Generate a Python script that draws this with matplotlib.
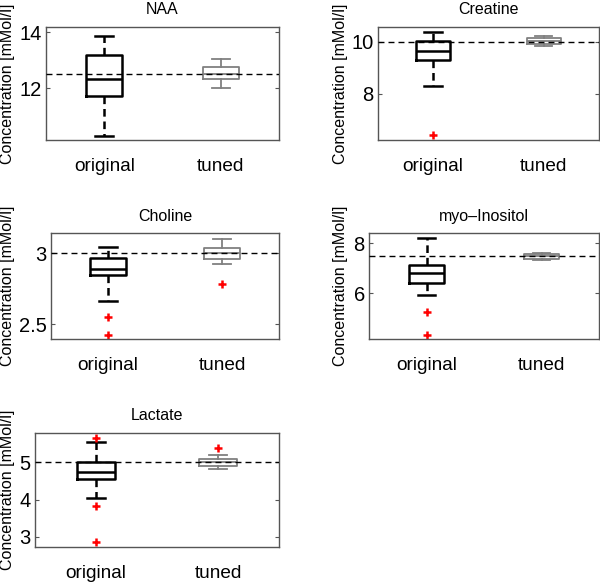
import matplotlib
matplotlib.use("Agg")
import matplotlib.pyplot as plt

plt.rcParams['font.family'] = ['Liberation Sans', 'DejaVu Sans']
plt.rcParams['lines.scale_dashes'] = False

titles = ["NAA", "Creatine", "Choline", "myo\u2013Inositol", "Lactate"]
true_values = [12.5, 10.0, 3.0, 7.5, 5.0]
groups = ["original", "tuned"]

# five-number summaries: whislo, q1, med, q3, whishi
orig_whislo = [10.30, 8.32, 2.666, 5.93, 4.05]
orig_q1 = [11.72, 9.30, 2.845, 6.42, 4.54]
orig_med = [12.31, 9.66, 2.889, 6.80, 4.73]
orig_q3 = [13.18, 10.03, 2.969, 7.13, 5.01]
orig_whishi = [13.85, 10.36, 3.047, 8.20, 5.54]
orig_fliers = [[], [6.43], [2.549, 2.425], [5.26, 4.33], [5.67, 3.83, 2.87]]

tuned_whislo = [12.02, 9.85, 2.927, 7.34, 4.81]
tuned_q1 = [12.32, 9.90, 2.958, 7.38, 4.91]
tuned_med = [12.52, 10.02, 3.004, 7.50, 5.00]
tuned_q3 = [12.74, 10.14, 3.035, 7.58, 5.09]
tuned_whishi = [13.05, 10.23, 3.10, 7.62, 5.19]
tuned_fliers = [[], [], [2.78], [], [5.39]]

ylims = [(10.15, 14.18), (6.24, 10.56), (2.394, 3.14), (4.16, 8.40), (2.73, 5.80)]
yticks = [[12, 14], [8, 10], [2.5, 3], [6, 8], [3, 4, 5]]
yticklabels = [["12", "14"], ["8", "10"], ["2.5", "3"], ["6", "8"], ["3", "4", "5"]]

W, H = 600, 584
# axes pixel boxes (left, right, top, bottom)
boxes_px = [(46, 279, 27, 140), (377.7, 599, 27, 140), (51, 279, 233.3, 339.3),
            (369, 599, 233.3, 339.3), (35, 279, 432.7, 546.7)]
ylabel_x_px = [8, 340, 8, 340, 8]

fig = plt.figure(figsize=(W / 100, H / 100), dpi=100)

spine_col = '#555555'
for i in range(5):
    l, r, t, b = boxes_px[i]
    ax = fig.add_axes([l / W, 1 - b / H, (r - l) / W, (b - t) / H])
    s_orig = dict(whislo=orig_whislo[i], q1=orig_q1[i], med=orig_med[i], q3=orig_q3[i],
                  whishi=orig_whishi[i], fliers=orig_fliers[i])
    s_tuned = dict(whislo=tuned_whislo[i], q1=tuned_q1[i], med=tuned_med[i], q3=tuned_q3[i],
                   whishi=tuned_whishi[i], fliers=tuned_fliers[i])
    flier = dict(marker='+', markeredgecolor='red', markersize=6, markeredgewidth=1.8,
                 linestyle='none')
    ax.bxp([s_orig], positions=[1], widths=0.31, capwidths=0.155,
           boxprops=dict(color='black', linewidth=1.8),
           medianprops=dict(color='black', linewidth=1.8),
           whiskerprops=dict(color='black', linewidth=1.8, linestyle=(0, (5.5, 3.5))),
           capprops=dict(color='black', linewidth=1.8),
           flierprops=flier, showfliers=True)
    ax.bxp([s_tuned], positions=[2], widths=0.31, capwidths=0.155,
           boxprops=dict(color='#808080', linewidth=1.3),
           medianprops=dict(color='#808080', linewidth=1.3),
           whiskerprops=dict(color='#808080', linewidth=1.3),
           capprops=dict(color='#808080', linewidth=1.3),
           flierprops=flier, showfliers=True)
    ax.axhline(true_values[i], color='black', linewidth=1.0, linestyle=(0, (4.3, 2.9)), zorder=5)
    ax.set_xlim(0.5, 2.5)
    ax.set_ylim(*ylims[i])
    ax.set_xticks([1, 2])
    ax.set_xticklabels(groups, fontsize=13.7)
    ax.set_yticks(yticks[i])
    ax.set_yticklabels(yticklabels[i], fontsize=14.5)
    ax.tick_params(axis='x', length=0, pad=13)
    ax.tick_params(axis='y', direction='in', length=3, width=0.8, color=spine_col,
                   right=True, pad=3)
    for sp in ax.spines.values():
        sp.set_color(spine_col)
        sp.set_linewidth(1.0)
    ax.set_title(titles[i], fontsize=11.5, pad=9)
    fig.text(ylabel_x_px[i] / W, 1 - ((t + b) / 2) / H, "Concentration [mMol/l]",
             rotation=90, fontsize=11.5, ha='center', va='center')

fig.savefig("out.png", dpi=100)
